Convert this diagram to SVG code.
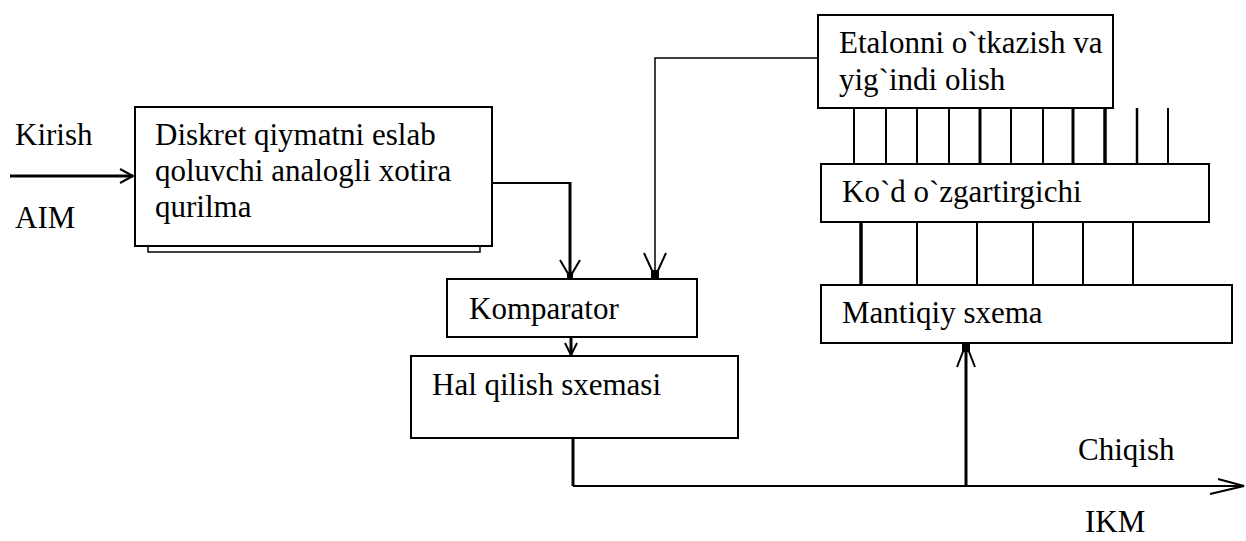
<svg xmlns="http://www.w3.org/2000/svg" width="1246" height="541" viewBox="0 0 1246 541">
<style>
.box{fill:#fff;stroke:#000;stroke-width:2}
.t{font-family:"Liberation Serif","Times New Roman",serif;font-size:31px;fill:#000}
.ln{fill:none;stroke:#000;stroke-width:2}
.thk{fill:none;stroke:#000;stroke-width:3}
.thn{fill:none;stroke:#000;stroke-width:1.5}
.ah{fill:none;stroke:#000;stroke-width:2}
</style>
<rect width="1246" height="541" fill="#fff"/>
<g id="labels">
<text class="t" x="15" y="145">Kirish</text>
<text class="t" x="15" y="228">AIM</text>
<text class="t" x="1078" y="460">Chiqish</text>
<text class="t" x="1085" y="532">IKM</text>
</g>
<g id="connectors">
<line class="thk" x1="10" y1="176" x2="133" y2="176"/>
<path class="ah" d="M120,169 L133,176 L120,183"/>
<path class="ln" d="M492,183 H570"/>
<line class="thk" x1="570" y1="182" x2="570" y2="277"/>
<path class="ah" d="M560,260 L570,277 L580,260"/>
<rect x="567" y="272" width="6" height="6" fill="#000"/>
<path class="thn" d="M818,58 H655 V277"/>
<path class="ah" d="M644,253 L655,277 L666,253"/>
<rect x="651" y="270" width="8" height="8" fill="#000"/>
<line class="thk" x1="571" y1="337" x2="571" y2="355"/>
<path class="ah" d="M565,343 L571,355 L577,343"/>
<line class="thk" x1="573" y1="438" x2="573" y2="486"/>
<path class="ln" d="M573,486 H1244"/>
<path class="ah" d="M1218,479 L1244,486 L1210,494"/>
<line class="thk" x1="966" y1="486" x2="966" y2="344"/>
<path class="ah" d="M957,367 L966,344 L975,367"/>
<rect x="962" y="344" width="8" height="8" fill="#000"/>
<g class="ln">
<line x1="854" y1="108" x2="854" y2="164"/>
<line x1="886" y1="108" x2="886" y2="164"/>
<line x1="917" y1="108" x2="917" y2="164"/>
<line x1="949" y1="108" x2="949" y2="164"/>
<line x1="980" y1="108" x2="980" y2="164" stroke-width="3"/>
<line x1="1011" y1="108" x2="1011" y2="164"/>
<line x1="1043" y1="108" x2="1043" y2="164"/>
<line x1="1073" y1="108" x2="1073" y2="164" stroke-width="3"/>
<line x1="1105" y1="108" x2="1105" y2="164" stroke-width="3.5"/>
<line x1="1137" y1="108" x2="1137" y2="164" stroke-width="2.5"/>
<line x1="1168" y1="108" x2="1168" y2="164"/>
</g>
<g class="ln">
<line x1="861" y1="222" x2="861" y2="285" stroke-width="3.5"/>
<line x1="917" y1="222" x2="917" y2="285"/>
<line x1="977" y1="222" x2="977" y2="285"/>
<line x1="1033" y1="222" x2="1033" y2="285"/>
<line x1="1083" y1="222" x2="1083" y2="285"/>
<line x1="1133" y1="222" x2="1133" y2="285"/>
</g>
</g>
<g id="node-memory">
<rect x="148" y="120" width="332" height="132" fill="#fff" stroke="#000" stroke-width="1.5"/>
<rect class="box" x="135" y="107" width="357" height="139"/>
<text class="t" x="155" y="145">Diskret qiymatni eslab</text>
<text class="t" x="155" y="181">qoluvchi analogli xotira</text>
<text class="t" x="155" y="217">qurilma</text>
</g>
<g id="node-etalon">
<rect class="box" x="818" y="15" width="295" height="93"/>
<text class="t" x="839" y="53">Etalonni o`tkazish va</text>
<text class="t" x="839" y="90">yig`indi olish</text>
</g>
<g id="node-kod">
<rect class="box" x="821" y="164" width="388" height="58"/>
<text class="t" x="842" y="202">Ko`d o`zgartirgichi</text>
</g>
<g id="node-mantiqiy">
<rect class="box" x="821" y="285" width="411" height="58"/>
<text class="t" x="842" y="323">Mantiqiy sxema</text>
</g>
<g id="node-komparator">
<rect class="box" x="447" y="279" width="250" height="58"/>
<text class="t" x="469" y="319">Komparator</text>
</g>
<g id="node-hal">
<rect class="box" x="411" y="356" width="327" height="82"/>
<text class="t" x="432" y="395">Hal qilish sxemasi</text>
</g>
</svg>
